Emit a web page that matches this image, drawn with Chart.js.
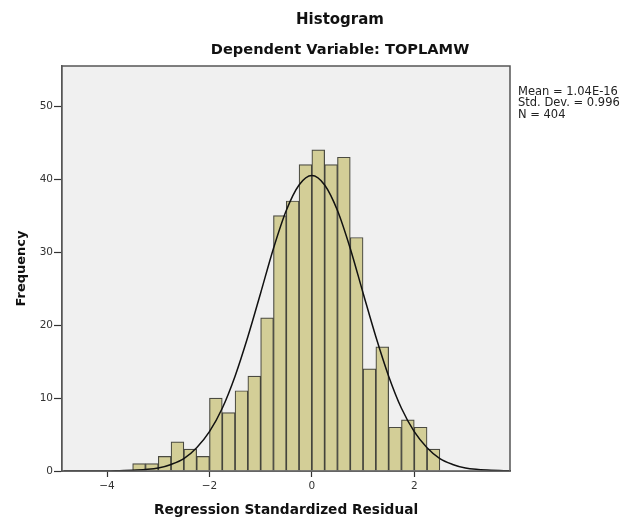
<!DOCTYPE html>
<html lang="en">
<head>
  <meta charset="UTF-8" />
  <title>Histogram</title>
  <script src="https://cdn.jsdelivr.net/npm/chart.js"></script>
  <style>
    body {
      margin: 0;
      background: #fff;
    }
    .chart-wrapper {
      width: 637px;
      height: 521px;
    }
  </style>
</head>
<body>
  <div class="chart-wrapper">
    <canvas id="histChart"></canvas>
  </div>

  <script>
    // bins of 0.25, lower edges
    const binWidth = 0.25;
    const binLow = [-3.5, -3.25, -3.0, -2.75, -2.5, -2.25, -2.0, -1.75, -1.5, -1.25, -1.0, -0.75,
                    -0.5, -0.25, 0.0, 0.25, 0.5, 0.75, 1.0, 1.25, 1.5, 1.75, 2.0, 2.25];
    const frequency = [1, 1, 2, 4, 3, 2, 10, 8, 11, 13, 21, 35,
                       37, 42, 44, 42, 43, 32, 14, 17, 6, 7, 6, 3];

    // normal curve
    const curveX = [-4.85, -4.5, -4.25, -4.0, -3.75, -3.5, -3.25, -3.0, -2.75, -2.5, -2.25, -2.0, -1.75,
                    -1.5, -1.25, -1.0, -0.75, -0.5, -0.25, 0.0, 0.25, 0.5, 0.75, 1.0, 1.25,
                    1.5, 1.75, 2.0, 2.25, 2.5, 2.75, 3.0, 3.25, 3.5, 3.75, 3.85];
    const curveY = [0, 0, 0, 0, 0.05, 0.1, 0.2, 0.4, 0.9, 1.7, 3.2, 5.4, 8.6,
                    13.0, 18.4, 24.4, 30.5, 35.7, 39.2, 40.5, 39.2, 35.7, 30.5, 24.4, 18.4,
                    13.0, 8.6, 5.4, 3.2, 1.7, 0.9, 0.4, 0.2, 0.1, 0.05, 0.03];

    const xTicks = [-4, -2, 0, 2];
    const yTicks = [0, 10, 20, 30, 40, 50];

    const titleLines = ["Histogram", "Dependent Variable: TOPLAMW"];
    const statLines = ["Mean = 1.04E-16", "Std. Dev. = 0.996", "N = 404"];

    Chart.defaults.font.family = "'DejaVu Sans', sans-serif";
    Chart.defaults.color = "#333";

    // grey plot background + frame + texts
    const frameAndText = {
      id: 'frameAndText',
      beforeDatasetsDraw: (chart) => {
        const { ctx, chartArea: a } = chart;
        ctx.save();
        ctx.fillStyle = '#f0f0f0';
        ctx.fillRect(a.left, a.top, a.right - a.left, a.bottom - a.top);
        ctx.restore();
      },
      afterDraw: (chart) => {
        const { ctx, chartArea: a } = chart;
        ctx.save();
        ctx.strokeStyle = '#555';
        ctx.lineWidth = 1.5;
        ctx.strokeRect(a.left, a.top, a.right - a.left, a.bottom - a.top);

        ctx.fillStyle = '#111';
        ctx.textAlign = 'center';
        ctx.textBaseline = 'middle';
        ctx.font = "bold 15px 'DejaVu Sans'";
        ctx.fillText(titleLines[0], 340, 20);
        ctx.font = "bold 14.6px 'DejaVu Sans'";
        ctx.fillText(titleLines[1], 340, 50);

        ctx.font = "11.5px 'DejaVu Sans'";
        ctx.textAlign = 'left';
        ctx.fillStyle = '#222';
        statLines.forEach((s, i) => ctx.fillText(s, a.right + 8, 92 + i * 11.5));
        ctx.restore();
      }
    };

    const ctx = document.getElementById("histChart").getContext("2d");
    new Chart(ctx, {
      data: {
        datasets: [{
          type: 'line',
          data: curveX.map((x, i) => ({ x: x, y: curveY[i] })),
          borderColor: '#111',
          borderWidth: 1.5,
          pointRadius: 0,
          cubicInterpolationMode: 'monotone',
          order: 0
        }, {
          type: 'bar',
          data: binLow.map((b, i) => ({ x: b + binWidth / 2, y: frequency[i] })),
          backgroundColor: '#d3ce97',
          borderColor: 'rgba(55, 55, 45, 0.9)',
          borderWidth: 1.2,
          barPercentage: 1,
          categoryPercentage: 1,
          order: 1
        }]
      },
      options: {
        responsive: true,
        maintainAspectRatio: false,
        animation: false,
        layout: {
          padding: { left: 0, top: 66, right: 127, bottom: 0 }
        },
        plugins: {
          legend: { display: false },
          tooltip: { enabled: false }
        },
        scales: {
          x: {
            type: 'linear',
            min: -4.88,
            max: 3.87,
            offset: false,
            afterBuildTicks: (s) => { s.ticks = xTicks.map(v => ({ value: v })); },
            afterFit: (s) => { s.height = 50; },
            grid: {
              offset: false,
              drawOnChartArea: false,
              drawTicks: true,
              tickLength: 6,
              tickColor: '#333',
              tickWidth: 1.2
            },
            border: { display: true, color: '#333', width: 1.5 },
            ticks: {
              padding: 3,
              font: { size: 10.5 },
              callback: (v) => String(v).replace('-', '\u2212')
            },
            title: {
              display: true,
              text: "Regression Standardized Residual",
              font: { size: 13.7, weight: 'bold' },
              color: '#111',
              padding: { top: 0, bottom: 2 }
            }
          },
          y: {
            min: 0,
            max: 55.5,
            afterBuildTicks: (s) => { s.ticks = yTicks.map(v => ({ value: v })); },
            afterFit: (s) => { s.width = 62; },
            grid: {
              drawOnChartArea: false,
              drawTicks: true,
              tickLength: 8,
              tickColor: '#333',
              tickWidth: 1.2
            },
            border: { display: true, color: '#555', width: 1.5 },
            ticks: {
              padding: 1,
              font: { size: 10.5 }
            },
            title: {
              display: true,
              text: "Frequency",
              font: { size: 13, weight: 'bold' },
              color: '#111',
              padding: { top: 14, bottom: 0 }
            }
          }
        }
      },
      plugins: [frameAndText]
    });
  </script>
</body>
</html>
